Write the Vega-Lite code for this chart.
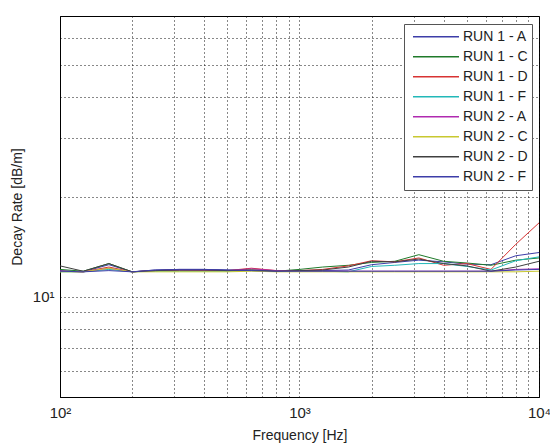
{
  "$schema": "https://vega.github.io/schema/vega-lite/v6.json",
  "autosize": {"type": "none"},
  "padding": {"left": 60, "top": 16, "right": 11, "bottom": 46},
  "width": 479,
  "height": 381,
  "background": "white",
  "config": {
    "font": "Liberation Sans",
    "view": {"stroke": "#000", "strokeWidth": 1},
    "axis": {"domainColor": "#000", "labelColor": "#222", "titleColor": "#222", "labelFont": "Liberation Sans", "titleFont": "Liberation Sans", "titleFontWeight": "normal"}
  },
  "data": {"values": [
    {"run": "RUN 1 - A", "f": 100, "v": 12.0}, {"run": "RUN 1 - A", "f": 125, "v": 11.9}, {"run": "RUN 1 - A", "f": 160, "v": 12.5}, {"run": "RUN 1 - A", "f": 200, "v": 11.9}, {"run": "RUN 1 - A", "f": 250, "v": 12.05}, {"run": "RUN 1 - A", "f": 315, "v": 12.1}, {"run": "RUN 1 - A", "f": 400, "v": 12.1}, {"run": "RUN 1 - A", "f": 500, "v": 12.05}, {"run": "RUN 1 - A", "f": 630, "v": 12.0}, {"run": "RUN 1 - A", "f": 800, "v": 11.95}, {"run": "RUN 1 - A", "f": 1000, "v": 12.0}, {"run": "RUN 1 - A", "f": 1250, "v": 12.0}, {"run": "RUN 1 - A", "f": 1600, "v": 12.05}, {"run": "RUN 1 - A", "f": 2000, "v": 12.5}, {"run": "RUN 1 - A", "f": 2500, "v": 12.7}, {"run": "RUN 1 - A", "f": 3150, "v": 12.9}, {"run": "RUN 1 - A", "f": 4000, "v": 12.75}, {"run": "RUN 1 - A", "f": 5000, "v": 12.55}, {"run": "RUN 1 - A", "f": 6300, "v": 12.5}, {"run": "RUN 1 - A", "f": 8000, "v": 13.3}, {"run": "RUN 1 - A", "f": 10000, "v": 13.6},
    {"run": "RUN 1 - C", "f": 100, "v": 12.1}, {"run": "RUN 1 - C", "f": 125, "v": 11.95}, {"run": "RUN 1 - C", "f": 160, "v": 12.6}, {"run": "RUN 1 - C", "f": 200, "v": 11.9}, {"run": "RUN 1 - C", "f": 250, "v": 12.0}, {"run": "RUN 1 - C", "f": 315, "v": 12.05}, {"run": "RUN 1 - C", "f": 400, "v": 12.05}, {"run": "RUN 1 - C", "f": 500, "v": 12.0}, {"run": "RUN 1 - C", "f": 630, "v": 12.05}, {"run": "RUN 1 - C", "f": 800, "v": 11.95}, {"run": "RUN 1 - C", "f": 1000, "v": 12.1}, {"run": "RUN 1 - C", "f": 1250, "v": 12.3}, {"run": "RUN 1 - C", "f": 1600, "v": 12.45}, {"run": "RUN 1 - C", "f": 2000, "v": 12.7}, {"run": "RUN 1 - C", "f": 2500, "v": 12.8}, {"run": "RUN 1 - C", "f": 3150, "v": 13.4}, {"run": "RUN 1 - C", "f": 4000, "v": 12.8}, {"run": "RUN 1 - C", "f": 5000, "v": 12.65}, {"run": "RUN 1 - C", "f": 6300, "v": 12.45}, {"run": "RUN 1 - C", "f": 8000, "v": 12.9}, {"run": "RUN 1 - C", "f": 10000, "v": 13.1},
    {"run": "RUN 1 - D", "f": 100, "v": 11.95}, {"run": "RUN 1 - D", "f": 125, "v": 11.9}, {"run": "RUN 1 - D", "f": 160, "v": 12.3}, {"run": "RUN 1 - D", "f": 200, "v": 11.9}, {"run": "RUN 1 - D", "f": 250, "v": 12.0}, {"run": "RUN 1 - D", "f": 315, "v": 12.05}, {"run": "RUN 1 - D", "f": 400, "v": 12.0}, {"run": "RUN 1 - D", "f": 500, "v": 12.0}, {"run": "RUN 1 - D", "f": 630, "v": 12.2}, {"run": "RUN 1 - D", "f": 800, "v": 12.0}, {"run": "RUN 1 - D", "f": 1000, "v": 12.0}, {"run": "RUN 1 - D", "f": 1250, "v": 12.1}, {"run": "RUN 1 - D", "f": 1600, "v": 12.4}, {"run": "RUN 1 - D", "f": 2000, "v": 12.85}, {"run": "RUN 1 - D", "f": 2500, "v": 12.75}, {"run": "RUN 1 - D", "f": 3150, "v": 13.1}, {"run": "RUN 1 - D", "f": 4000, "v": 12.45}, {"run": "RUN 1 - D", "f": 5000, "v": 12.6}, {"run": "RUN 1 - D", "f": 6300, "v": 12.1}, {"run": "RUN 1 - D", "f": 8000, "v": 14.4}, {"run": "RUN 1 - D", "f": 10000, "v": 16.7},
    {"run": "RUN 1 - F", "f": 100, "v": 11.9}, {"run": "RUN 1 - F", "f": 125, "v": 11.9}, {"run": "RUN 1 - F", "f": 160, "v": 12.1}, {"run": "RUN 1 - F", "f": 200, "v": 11.9}, {"run": "RUN 1 - F", "f": 250, "v": 11.95}, {"run": "RUN 1 - F", "f": 315, "v": 11.95}, {"run": "RUN 1 - F", "f": 400, "v": 11.95}, {"run": "RUN 1 - F", "f": 500, "v": 11.95}, {"run": "RUN 1 - F", "f": 630, "v": 12.0}, {"run": "RUN 1 - F", "f": 800, "v": 11.95}, {"run": "RUN 1 - F", "f": 1000, "v": 11.95}, {"run": "RUN 1 - F", "f": 1250, "v": 11.95}, {"run": "RUN 1 - F", "f": 1600, "v": 11.9}, {"run": "RUN 1 - F", "f": 2000, "v": 12.35}, {"run": "RUN 1 - F", "f": 2500, "v": 12.45}, {"run": "RUN 1 - F", "f": 3150, "v": 12.6}, {"run": "RUN 1 - F", "f": 4000, "v": 12.6}, {"run": "RUN 1 - F", "f": 5000, "v": 12.35}, {"run": "RUN 1 - F", "f": 6300, "v": 12.05}, {"run": "RUN 1 - F", "f": 8000, "v": 12.85}, {"run": "RUN 1 - F", "f": 10000, "v": 13.2},
    {"run": "RUN 2 - A", "f": 100, "v": 11.95}, {"run": "RUN 2 - A", "f": 125, "v": 11.9}, {"run": "RUN 2 - A", "f": 160, "v": 12.2}, {"run": "RUN 2 - A", "f": 200, "v": 11.9}, {"run": "RUN 2 - A", "f": 250, "v": 12.0}, {"run": "RUN 2 - A", "f": 315, "v": 12.05}, {"run": "RUN 2 - A", "f": 400, "v": 12.05}, {"run": "RUN 2 - A", "f": 500, "v": 12.0}, {"run": "RUN 2 - A", "f": 630, "v": 12.15}, {"run": "RUN 2 - A", "f": 800, "v": 12.0}, {"run": "RUN 2 - A", "f": 1000, "v": 11.95}, {"run": "RUN 2 - A", "f": 1250, "v": 11.95}, {"run": "RUN 2 - A", "f": 1600, "v": 11.95}, {"run": "RUN 2 - A", "f": 2000, "v": 11.95}, {"run": "RUN 2 - A", "f": 2500, "v": 11.95}, {"run": "RUN 2 - A", "f": 3150, "v": 11.95}, {"run": "RUN 2 - A", "f": 4000, "v": 11.95}, {"run": "RUN 2 - A", "f": 5000, "v": 11.95}, {"run": "RUN 2 - A", "f": 6300, "v": 11.95}, {"run": "RUN 2 - A", "f": 8000, "v": 12.1}, {"run": "RUN 2 - A", "f": 10000, "v": 12.15},
    {"run": "RUN 2 - C", "f": 100, "v": 11.9}, {"run": "RUN 2 - C", "f": 125, "v": 11.9}, {"run": "RUN 2 - C", "f": 160, "v": 12.2}, {"run": "RUN 2 - C", "f": 200, "v": 11.9}, {"run": "RUN 2 - C", "f": 250, "v": 11.9}, {"run": "RUN 2 - C", "f": 315, "v": 11.9}, {"run": "RUN 2 - C", "f": 400, "v": 11.9}, {"run": "RUN 2 - C", "f": 500, "v": 11.9}, {"run": "RUN 2 - C", "f": 630, "v": 11.95}, {"run": "RUN 2 - C", "f": 800, "v": 11.9}, {"run": "RUN 2 - C", "f": 1000, "v": 11.9}, {"run": "RUN 2 - C", "f": 1250, "v": 11.9}, {"run": "RUN 2 - C", "f": 1600, "v": 11.9}, {"run": "RUN 2 - C", "f": 2000, "v": 11.9}, {"run": "RUN 2 - C", "f": 2500, "v": 11.9}, {"run": "RUN 2 - C", "f": 3150, "v": 11.9}, {"run": "RUN 2 - C", "f": 4000, "v": 11.9}, {"run": "RUN 2 - C", "f": 5000, "v": 11.9}, {"run": "RUN 2 - C", "f": 6300, "v": 11.9}, {"run": "RUN 2 - C", "f": 8000, "v": 11.9}, {"run": "RUN 2 - C", "f": 10000, "v": 11.95},
    {"run": "RUN 2 - D", "f": 100, "v": 12.4}, {"run": "RUN 2 - D", "f": 125, "v": 11.95}, {"run": "RUN 2 - D", "f": 160, "v": 12.6}, {"run": "RUN 2 - D", "f": 200, "v": 11.9}, {"run": "RUN 2 - D", "f": 250, "v": 12.0}, {"run": "RUN 2 - D", "f": 315, "v": 12.05}, {"run": "RUN 2 - D", "f": 400, "v": 12.05}, {"run": "RUN 2 - D", "f": 500, "v": 12.0}, {"run": "RUN 2 - D", "f": 630, "v": 12.05}, {"run": "RUN 2 - D", "f": 800, "v": 11.95}, {"run": "RUN 2 - D", "f": 1000, "v": 12.0}, {"run": "RUN 2 - D", "f": 1250, "v": 12.05}, {"run": "RUN 2 - D", "f": 1600, "v": 12.3}, {"run": "RUN 2 - D", "f": 2000, "v": 12.8}, {"run": "RUN 2 - D", "f": 2500, "v": 12.75}, {"run": "RUN 2 - D", "f": 3150, "v": 13.0}, {"run": "RUN 2 - D", "f": 4000, "v": 12.6}, {"run": "RUN 2 - D", "f": 5000, "v": 12.4}, {"run": "RUN 2 - D", "f": 6300, "v": 11.95}, {"run": "RUN 2 - D", "f": 8000, "v": 12.3}, {"run": "RUN 2 - D", "f": 10000, "v": 12.8},
    {"run": "RUN 2 - F", "f": 100, "v": 11.95}, {"run": "RUN 2 - F", "f": 125, "v": 11.9}, {"run": "RUN 2 - F", "f": 160, "v": 12.0}, {"run": "RUN 2 - F", "f": 200, "v": 11.9}, {"run": "RUN 2 - F", "f": 250, "v": 12.05}, {"run": "RUN 2 - F", "f": 315, "v": 12.1}, {"run": "RUN 2 - F", "f": 400, "v": 12.1}, {"run": "RUN 2 - F", "f": 500, "v": 12.05}, {"run": "RUN 2 - F", "f": 630, "v": 12.0}, {"run": "RUN 2 - F", "f": 800, "v": 11.95}, {"run": "RUN 2 - F", "f": 1000, "v": 11.95}, {"run": "RUN 2 - F", "f": 1250, "v": 11.95}, {"run": "RUN 2 - F", "f": 1600, "v": 11.95}, {"run": "RUN 2 - F", "f": 2000, "v": 11.95}, {"run": "RUN 2 - F", "f": 2500, "v": 11.95}, {"run": "RUN 2 - F", "f": 3150, "v": 11.95}, {"run": "RUN 2 - F", "f": 4000, "v": 11.95}, {"run": "RUN 2 - F", "f": 5000, "v": 11.95}, {"run": "RUN 2 - F", "f": 6300, "v": 11.95}, {"run": "RUN 2 - F", "f": 8000, "v": 12.05}, {"run": "RUN 2 - F", "f": 10000, "v": 12.1}
  ]},
  "mark": {"type": "line", "strokeWidth": 1, "clip": true},
  "encoding": {
    "x": {
      "field": "f", "type": "quantitative",
      "scale": {"type": "log", "domain": [100, 10000], "nice": false},
      "axis": {
        "title": "Frequency [Hz]", "titleFontSize": 14, "titlePadding": 8,
        "values": [100, 200, 300, 400, 500, 600, 700, 800, 900, 1000, 2000, 3000, 4000, 5000, 6000, 7000, 8000, 9000, 10000],
        "labelExpr": "datum.value == 100 ? '10²' : datum.value == 1000 ? '10³' : datum.value == 10000 ? '10⁴' : ''",
        "labelFontSize": 15, "labelPadding": 8, "labelOverlap": false, "labelFlush": false,
        "ticks": false, "grid": true, "gridColor": "#111", "gridDash": [1, 3], "gridOpacity": 1
      }
    },
    "y": {
      "field": "v", "type": "quantitative",
      "scale": {"type": "log", "domain": [5, 70], "nice": false},
      "axis": {
        "title": "Decay Rate [dB/m]", "titleFontSize": 14, "titlePadding": 8,
        "values": [6, 7, 8, 9, 10, 20, 30, 40, 50, 60],
        "labelExpr": "datum.value == 10 ? '10¹' : ''",
        "labelFontSize": 15, "labelPadding": 6, "labelOverlap": false,
        "ticks": false, "grid": true, "gridColor": "#111", "gridDash": [1, 3], "gridOpacity": 1
      }
    },
    "color": {
      "field": "run", "type": "nominal",
      "scale": {
        "domain": ["RUN 1 - A", "RUN 1 - C", "RUN 1 - D", "RUN 1 - F", "RUN 2 - A", "RUN 2 - C", "RUN 2 - D", "RUN 2 - F"],
        "range": ["#3d3da8", "#1f7a2a", "#d83333", "#22b8b8", "#b02ab0", "#c8c830", "#404040", "#3d3da8"]
      },
      "legend": {
        "title": null, "orient": "none", "legendX": 344, "legendY": 8,
        "fillColor": "white", "strokeColor": "#555", "padding": 4,
        "symbolType": "stroke", "symbolSize": 2116, "symbolStrokeWidth": 1.5, "symbolOffset": 4,
        "clipHeight": 17.4, "rowPadding": 2, "labelOffset": 3,
        "labelFontSize": 14, "labelColor": "#222", "labelFont": "Liberation Sans"
      }
    }
  }
}
